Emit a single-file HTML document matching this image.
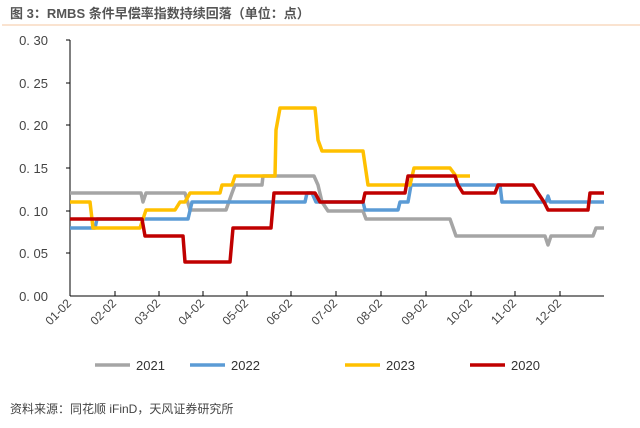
<!DOCTYPE html>
<html><head><meta charset="utf-8"><style>
body{margin:0;background:#fff;width:640px;height:423px;overflow:hidden;font-family:"Liberation Sans","Noto Sans CJK SC",sans-serif}
</style></head><body>
<svg width="640" height="423" xmlns="http://www.w3.org/2000/svg" font-family="Liberation Sans, Noto Sans CJK SC, sans-serif">
<text x="10" y="18" font-size="13" font-weight="bold" fill="#555">图 3：RMBS 条件早偿率指数持续回落（单位：点）</text>
<line x1="2" y1="25" x2="640" y2="25" stroke="#f4c7a1" stroke-width="1"/>
<g font-size="13" fill="#444" text-anchor="end">
<text x="48" y="45">0. 30</text><text x="48" y="88">0. 25</text><text x="48" y="130">0. 20</text>
<text x="48" y="173">0. 15</text><text x="48" y="216">0. 10</text><text x="48" y="258">0. 05</text><text x="48" y="301">0. 00</text>
</g>
<g stroke="#000" stroke-width="1" fill="none">
<line x1="70" y1="40" x2="70" y2="296"/><line x1="70" y1="296" x2="604" y2="296"/>
<line x1="66" y1="40" x2="70" y2="40"/><line x1="66" y1="83" x2="70" y2="83"/><line x1="66" y1="125" x2="70" y2="125"/><line x1="66" y1="168" x2="70" y2="168"/><line x1="66" y1="211" x2="70" y2="211"/><line x1="66" y1="253" x2="70" y2="253"/>
<path d="M115 296v-5M159 296v-5M203 296v-5M247 296v-5M291 296v-5M336 296v-5M381 296v-5M426 296v-5M471 296v-5M515 296v-5M560 296v-5"/>
</g>
<g font-size="12" fill="#444" text-anchor="end">
<text transform="translate(72,304) rotate(-45)">01-02</text>
<text transform="translate(117,304) rotate(-45)">02-02</text>
<text transform="translate(161,304) rotate(-45)">03-02</text>
<text transform="translate(205,304) rotate(-45)">04-02</text>
<text transform="translate(249,304) rotate(-45)">05-02</text>
<text transform="translate(293,304) rotate(-45)">06-02</text>
<text transform="translate(338,304) rotate(-45)">07-02</text>
<text transform="translate(383,304) rotate(-45)">08-02</text>
<text transform="translate(428,304) rotate(-45)">09-02</text>
<text transform="translate(473,304) rotate(-45)">10-02</text>
<text transform="translate(517,304) rotate(-45)">11-02</text>
<text transform="translate(562,304) rotate(-45)">12-02</text>
</g>
<g fill="none" stroke-width="3.5" stroke-linejoin="round">
<polyline stroke="#a5a5a5" points="70,193 141,193 143,202 146,193 185,193 190,210 226,210 232,193 235,185 262,185 263,176 314,176 318,185 322,202 328,211 363,211 366,219 450,219 456,236 545,236 548,245 551,236 593,236 596,228 604,228"/>
<polyline stroke="#5b9bd5" points="70,228 95,228 97,219 188,219 192,202 305,202 307,193 312,193 316,202 363,202 365,210 398,210 400,202 408,202 411,185 500,185 502,202 546,202 548,196 550,202 604,202"/>
<polyline stroke="#ffc000" points="70,202 90,202 93,228 140,228 146,210 175,210 180,202 185,202 190,193 220,193 222,185 232,185 235,176 275,176 276,130 280,108 315,108 316,118 318,140 322,151 363,151 368,185 410,185 414,168 450,168 456,176 470,176"/>
<polyline stroke="#c00000" points="70,219 142,219 145,236 183,236 185,262 230,262 233,228 271,228 274,193 315,193 320,202 363,202 365,193 405,193 408,176 455,176 458,185 463,193 495,193 498,185 533,185 538,193 544,202 548,210 588,210 590,193 604,193"/>
</g>
<g stroke-width="3.5">
<line x1="95" y1="365" x2="130" y2="365" stroke="#a5a5a5"/>
<line x1="190" y1="365" x2="225" y2="365" stroke="#5b9bd5"/>
<line x1="345" y1="365" x2="380" y2="365" stroke="#ffc000"/>
<line x1="470" y1="365" x2="505" y2="365" stroke="#c00000"/>
</g>
<g font-size="13" fill="#333">
<text x="136" y="370">2021</text><text x="231" y="370">2022</text><text x="386" y="370">2023</text><text x="511" y="370">2020</text>
</g>
<text x="10" y="413" font-size="12" fill="#444">资料来源：同花顺 iFinD，天风证券研究所</text>
</svg>
</body></html>
